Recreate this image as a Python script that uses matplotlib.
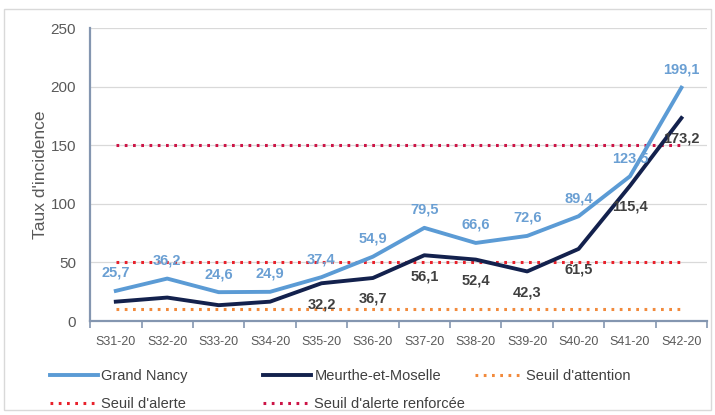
import numpy as np
import matplotlib.pyplot as plt
from matplotlib.lines import Line2D
from matplotlib.patches import Rectangle

plt.rcParams['font.family'] = ['Liberation Sans', 'DejaVu Sans']

# données
semaines = ['S31-20', 'S32-20', 'S33-20', 'S34-20', 'S35-20', 'S36-20',
            'S37-20', 'S38-20', 'S39-20', 'S40-20', 'S41-20', 'S42-20']
grand_nancy = [25.7, 36.2, 24.6, 24.9, 37.4, 54.9, 79.5, 66.6, 72.6, 89.4, 123.5, 199.1]
meurthe = [16.5, 20.0, 13.5, 16.5, 32.2, 36.7, 56.1, 52.4, 42.3, 61.5, 115.4, 173.2]
meurthe_labels = [None, None, None, None, 32.2, 36.7, 56.1, 52.4, 42.3, 61.5, 115.4, 173.2]
seuil_attention = 10
seuil_alerte = 50
seuil_renforce = 150

c_gn = '#5b9bd5'
c_mm = '#13214d'
c_att = '#f28a3c'
c_al = '#e8212b'
c_ren = '#cc1446'


def fmt(v):
    return ('%.1f' % v).replace('.', ',')


fig = plt.figure(figsize=(7.15, 4.15), dpi=100)
fig.patches.append(Rectangle((0.005, 0.012), 0.99, 0.966, transform=fig.transFigure,
                             fill=False, edgecolor='#d9d9d9', linewidth=1))
ax = fig.add_axes([0.126, 0.2265, 0.863, 0.706])

x = np.arange(len(semaines))
ax.set_xlim(-0.5, len(semaines) - 0.5)
ax.set_ylim(0, 250)
ax.set_yticks(np.arange(0, 251, 50))
ax.grid(axis='y', color='#d9d9d9', linewidth=0.9)
ax.set_axisbelow(True)

dots = (0, (0.9, 1.8))
ax.plot(x, [seuil_attention] * len(x), color=c_att, lw=2.2, ls=dots, zorder=2)
ax.plot(x, [seuil_alerte] * len(x), color=c_al, lw=2.2, ls=dots, zorder=2)
ax.plot(x, [seuil_renforce] * len(x), color=c_ren, lw=2.2, ls=dots, zorder=2)
ax.plot(x, grand_nancy, color=c_gn, lw=2.8, zorder=3)
ax.plot(x, meurthe, color=c_mm, lw=2.8, zorder=3)

for i, v in enumerate(grand_nancy):
    ax.annotate(fmt(v), (x[i], v), xytext=(0, 8), textcoords='offset points',
                ha='center', va='bottom', color='#6a9fd3', fontsize=10.5, fontweight='bold', zorder=4)
for i, v in enumerate(meurthe_labels):
    if v is None:
        continue
    ax.annotate(fmt(v), (x[i], meurthe[i]), xytext=(0, -10), textcoords='offset points',
                ha='center', va='top', color='#404040', fontsize=10.5, fontweight='bold', zorder=4)

for s in ['top', 'right']:
    ax.spines[s].set_visible(False)
for s in ['left', 'bottom']:
    ax.spines[s].set_color('#8496b0')
    ax.spines[s].set_linewidth(1.6)

ax.set_xticks(x)
ax.set_xticklabels(semaines, fontsize=9, color='#595959')
ax.set_xticks(np.arange(-0.5, len(semaines)), minor=True)
ax.tick_params(axis='x', which='major', length=0, pad=11)
ax.tick_params(axis='x', which='minor', length=5, width=1.2, color='#8496b0', direction='out')
ax.tick_params(axis='y', length=0, labelsize=11, labelcolor='#595959', pad=10)
ax.set_ylabel("Taux d'incidence", fontsize=12.5, color='#595959', labelpad=2)

# légende
h_gn = Line2D([], [], color=c_gn, lw=2.8)
h_mm = Line2D([], [], color=c_mm, lw=2.8)
h_att = Line2D([], [], color=c_att, lw=2.2, ls=dots)
h_al = Line2D([], [], color=c_al, lw=2.2, ls=dots)
h_ren = Line2D([], [], color=c_ren, lw=2.2, ls=dots)
kw = dict(loc='upper left', frameon=False, fontsize=10.5, handlelength=3.3,
          handletextpad=0.2, labelspacing=0.95, labelcolor='#404040')
fig.legend([h_gn, h_al], ['Grand Nancy', "Seuil d'alerte"], bbox_to_anchor=(0.052, 0.142), **kw)
fig.legend([h_mm, h_ren], ['Meurthe-et-Moselle', "Seuil d'alerte renforcée"],
           bbox_to_anchor=(0.350, 0.142), **kw)
fig.legend([h_att], ["Seuil d'attention"], bbox_to_anchor=(0.646, 0.142), **kw)

fig.savefig('out.png', dpi=100)
